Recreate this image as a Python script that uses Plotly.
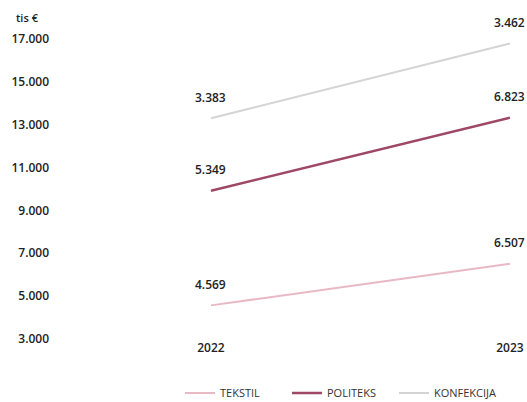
import plotly.graph_objects as go

years = [2022, 2023]
series_names = ["TEKSTIL", "POLITEKS", "KONFEKCIJA"]
tekstil = [4569, 6507]
politeks = [5349, 6823]
konfekcija = [3383, 3462]
colors = ["#e8b9c5", "#9e4866", "#d4d4d4"]
widths = [2, 2.5, 2]
ytick_vals = [3000, 5000, 7000, 9000, 11000, 13000, 15000, 17000]
ytick_text = ["3.000", "5.000", "7.000", "9.000", "11.000", "13.000", "15.000", "17.000"]

def fmt(v):
    return f"{v:,}".replace(",", ".")

font_family = "Open Sans"
W, H = 527, 402
ML, MR, MT, MB = 60, 12, 39, 63

fig = go.Figure()
annotations = []
cum = [0, 0]
for name, vals, c, w in zip(series_names, [tekstil, politeks, konfekcija], colors, widths):
    fig.add_trace(go.Scatter(
        x=years, y=vals, name=name, stackgroup="one", fill="none",
        mode="lines", line=dict(color=c, width=w),
    ))
    cum = [a + b for a, b in zip(cum, vals)]
    for xv, yv, v in zip(years, cum, vals):
        annotations.append(dict(
            x=xv, y=yv, xref="x", yref="y", text=fmt(v), showarrow=False,
            xanchor="center", yanchor="middle", yshift=21, xshift=0,
            font=dict(family=font_family, size=12, color="#222", weight=600),
        ))

annotations.append(dict(
    text="tis €", x=(14 - ML) / (W - ML - MR), y=1 + (MT - 17) / (H - MT - MB),
    xref="paper", yref="paper", xanchor="left", yanchor="middle", showarrow=False,
    font=dict(family=font_family, size=11, color="#222", weight=600),
))

fig.update_layout(
    width=W, height=H,
    margin=dict(l=ML, r=MR, t=MT, b=MB),
    paper_bgcolor="white", plot_bgcolor="white",
    font=dict(family=font_family, size=11, color="#222"),
    showlegend=True,
    legend=dict(orientation="h", x=180 / W, xanchor="left",
                y=1 - 393 / H, yanchor="middle", yref="container", xref="container",
                font=dict(family=font_family, size=11, color="#333"),
                itemwidth=30, entrywidth=62, traceorder="normal"),
    xaxis=dict(range=[2021.495, 2023.017], tickvals=years, ticktext=[str(y) for y in years],
               showgrid=False, zeroline=False, showline=False, ticks="", automargin=False,
               tickfont=dict(family=font_family, size=12, color="#222", weight=600)),
    yaxis=dict(range=[3000, 17000], tickvals=ytick_vals, ticktext=ytick_text,
               showgrid=False, zeroline=False, showline=False, ticks="", automargin=False,
               tickfont=dict(family=font_family, size=12, color="#222", weight=600),
               ticklabelstandoff=10),
    annotations=annotations,
)
fig.write_html("out.html", config={"displayModeBar": False},
               post_script="document.body.style.margin='0';")
